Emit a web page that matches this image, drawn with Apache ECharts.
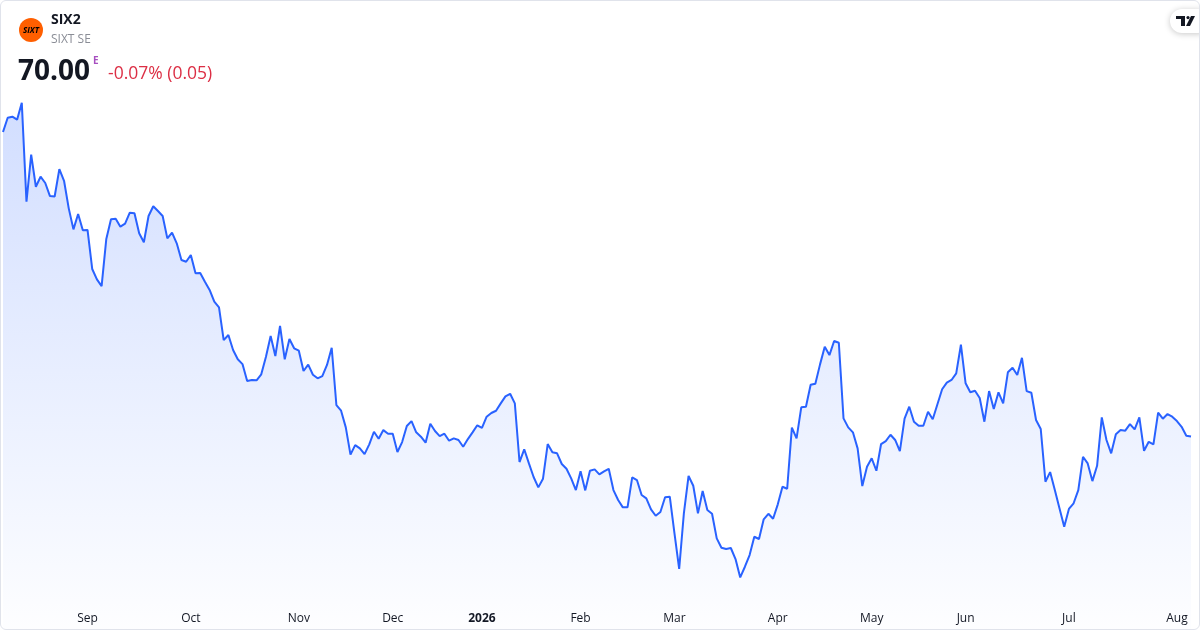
<!DOCTYPE html>
<html><head><meta charset="utf-8">
<script src="https://cdn.jsdelivr.net/npm/echarts@6/dist/echarts.min.js"></script>
<style>
html,body{margin:0;padding:0;background:#fff;}
#wrap{position:relative;width:1200px;height:630px;overflow:hidden;}
#chart{position:absolute;left:0;top:0;width:1200px;height:630px;}
#frame{position:absolute;left:0;top:0;width:1200px;height:630px;box-sizing:border-box;border:1px solid #e0e3eb;border-radius:6px;pointer-events:none;}
</style></head>
<body><div id="wrap"><div id="chart"></div><div id="frame"></div></div>
<script>
// Daily closing prices (EUR), one value per trading day, grouped by month
const aug2025 = [90.30,91.25,91.32,91.12,92.25,85.65,88.79,86.65,87.32,86.90,86.03,86.00,87.83,87.05,85.21,83.81,84.83,83.75];
const sep2025 = [83.77,81.17,80.48,80.03,83.17,84.48,84.52,83.99,84.19,84.92,84.88,83.55,82.95,84.70,85.35,85.03,84.70,83.21,83.59,82.88,81.77,81.65];
const oct2025 = [82.10,80.88,80.90,80.32,79.77,78.99,78.61,76.43,76.77,75.77,75.15,74.83,73.70,73.77,73.75,74.15,75.32,76.70,75.37,77.37,75.15,76.50,75.88];
const nov2025 = [75.72,74.37,74.79,74.12,73.88,74.03,74.77,75.92,72.10,71.72,70.61,68.79,69.43,69.21,68.83,69.48,70.32,69.85,70.43,70.19];
const dec2025 = [70.19,68.97,69.63,70.70,71.03,70.28,69.99,69.59,70.85,70.37,70.03,70.19,69.72,69.88,69.77,69.32,69.83,70.28,70.75];
const jan2026 = [70.57,71.32,71.57,71.72,72.21,72.68,72.85,72.21,68.30,69.15,68.21,67.30,66.61,67.19,69.50,68.95,68.88,68.17,67.85,67.21,66.43];
const feb2026 = [67.68,66.41,67.72,67.81,67.48,67.68,67.85,66.43,65.77,65.28,65.28,67.28,67.10,66.10,65.88,65.15,64.72,64.97,65.95,65.99];
const mar2026 = [63.55,61.17,64.88,67.37,66.72,64.88,66.37,65.10,64.85,63.21,62.59,62.50,62.57,61.83,60.61,61.32,62.10,63.32,63.17,64.48,64.85,64.52];
const apr2026 = [65.48,66.65,66.52,70.59,69.88,71.95,71.99,73.45,73.52,74.81,75.99,75.43,76.37,76.25,71.21,70.61,70.28,69.21,66.70,67.99];
const may2026 = [68.55,67.72,69.50,69.70,70.12,69.77,69.03,71.19,71.99,70.99,70.72,70.72,71.65,71.15,72.15,73.15,73.59,73.77,74.21,76.12];
const jun2026 = [73.55,72.95,73.05,72.57,70.99,73.03,71.83,72.95,72.21,74.28,74.59,74.10,75.25,73.03,72.92,71.10,70.50,66.99,67.63,66.43,65.21,63.99];
const jul2026 = [65.17,65.55,66.43,68.65,68.21,67.03,68.05,71.28,69.77,68.88,70.15,70.43,70.39,70.83,70.48,71.28,69.05,69.65,69.48,71.59,71.19,71.50,71.32];
const aug2026 = [71.03,70.65,70.05,70.00];

// Month tick labels (shown at the first trading day of each month)
const monthKeys   = ['2025-08','2025-09','2025-10','2025-11','2025-12','2026-01','2026-02','2026-03','2026-04','2026-05','2026-06','2026-07','2026-08'];
const tickLabels  = ['',       'Sep',    'Oct',    'Nov',    'Dec',    '2026',   'Feb',    'Mar',    'Apr',    'May',    'Jun',    'Jul',    'Aug'];
const monthValues = [aug2025,sep2025,oct2025,nov2025,dec2025,jan2026,feb2026,mar2026,apr2026,may2026,jun2026,jul2026,aug2026];

const categories = [];
const prices = [];
monthValues.forEach(function (vals, m) {
  vals.forEach(function (v, i) {
    categories.push(monthKeys[m] + '|' + i);
    prices.push(v);
  });
});
const labelOf = {};
monthKeys.forEach(function (k, m) { labelOf[k] = tickLabels[m]; });

const chart = echarts.init(document.getElementById('chart'), null, {renderer: 'canvas'});
const FONT = '"Open Sans", "Noto Sans", sans-serif';

chart.setOption({
  animation: false,
  backgroundColor: '#ffffff',
  grid: {left: 3, right: 9, top: 90, bottom: 1, containLabel: false},
  xAxis: {
    type: 'category',
    data: categories,
    boundaryGap: false,
    axisLine: {show: false},
    axisTick: {show: false},
    splitLine: {show: false},
    axisLabel: {
      inside: true,
      margin: 4,
      color: '#131722',
      fontFamily: FONT,
      fontSize: 12,
      hideOverlap: false,
      interval: function (index, value) {
        const parts = String(value).split('|');
        return parts[1] === '0' && labelOf[parts[0]] !== '';
      },
      formatter: function (value) {
        const parts = String(value).split('|');
        const t = labelOf[parts[0]];
        return t === '2026' ? '{b|' + t + '}' : t;
      },
      rich: {
        b: {fontWeight: 'bold', fontSize: 12, color: '#131722', fontFamily: FONT}
      }
    }
  },
  yAxis: {
    type: 'value',
    min: 57.17,
    max: 93.1,
    show: false,
    splitLine: {show: false}
  },
  series: [{
    type: 'line',
    data: prices,
    showSymbol: false,
    symbol: 'none',
    smooth: false,
    lineStyle: {color: '#2962ff', width: 2},
    itemStyle: {color: '#2962ff'},
    areaStyle: {
      color: new echarts.graphic.LinearGradient(0, 0, 0, 1, [
        {offset: 0, color: 'rgba(41,98,255,0.30)'},
        {offset: 1, color: 'rgba(41,98,255,0.01)'}
      ])
    },
    z: 2
  }],
  graphic: [
    {type: 'circle', shape: {cx: 31, cy: 30, r: 12}, style: {fill: '#ff5f00'}, z: 10},
    {type: 'text', x: 31, y: 30.5, style: {text: 'SIXT', fill: '#000', font: 'italic bold 8px ' + FONT, align: 'center', verticalAlign: 'middle'}, z: 11},
    {type: 'text', x: 51, y: 20, style: {text: 'SIX2', fill: '#131722', font: 'bold 14px ' + FONT, verticalAlign: 'middle'}, z: 10},
    {type: 'text', x: 51, y: 40, style: {text: 'SIXT SE', fill: '#8a8d96', font: '12px ' + FONT, verticalAlign: 'middle'}, z: 10},
    {type: 'text', x: 18, y: 72, style: {text: '70.00', fill: '#131722', font: 'bold 28px ' + FONT, verticalAlign: 'middle'}, z: 10},
    {type: 'text', x: 93, y: 61, style: {text: 'E', fill: '#a74fc0', font: 'bold 10px ' + FONT, verticalAlign: 'middle'}, z: 10},
    {type: 'text', x: 108, y: 74, style: {text: '-0.07% (0.05)', fill: '#dc2f45', font: '17.5px ' + FONT, verticalAlign: 'middle'}, z: 10},
    {type: 'rect', shape: {x: 1170, y: 9, width: 40, height: 24, r: 12}, style: {fill: '#ffffff', shadowBlur: 6, shadowColor: 'rgba(0,0,0,0.22)', shadowOffsetY: 1}, z: 10},
    {type: 'polygon', shape: {points: [[1176,16],[1185,16],[1185,26],[1181,26],[1181,19],[1176,19]]}, style: {fill: '#131722'}, z: 11},
    {type: 'circle', shape: {cx: 1188, cy: 17.6, r: 1.6}, style: {fill: '#131722'}, z: 11},
    {type: 'polygon', shape: {points: [[1191,16],[1195,16],[1190,26],[1186,26]]}, style: {fill: '#131722'}, z: 11}
  ]
});
</script>
</body></html>
